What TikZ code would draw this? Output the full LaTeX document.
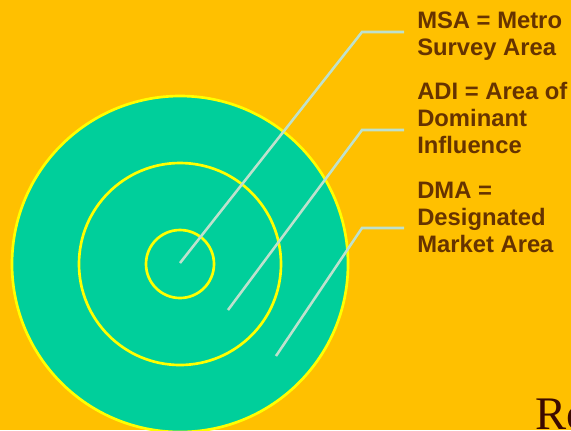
\documentclass[tikz,border=0pt]{standalone}
\usepackage{fontspec}
\setmainfont{Liberation Sans}
\newfontfamily\logofont{Liberation Serif}
\usetikzlibrary{positioning}
\definecolor{bgorange}{RGB}{255,192,0}
\definecolor{ringgreen}{RGB}{0,207,155}
\definecolor{ringyellow}{RGB}{255,255,0}
\definecolor{leadgrey}{RGB}{190,225,205}
\definecolor{labelbrown}{RGB}{102,51,0}
\definecolor{logobrown}{RGB}{60,10,0}
\tikzset{
  ring/.style={draw=ringyellow, line width=2pt, circle, inner sep=0pt},
  leader/.style={draw=leadgrey, line width=1.9pt},
  arealabel/.style={anchor=north west, align=left, inner sep=0pt, text=labelbrown,
    font=\fontsize{17.85pt}{20.2pt}\selectfont\bfseries}
}
\begin{document}
\begin{tikzpicture}[x=.75pt,y=-.75pt]
      \fill[bgorange] (0,0) rectangle (571,430);
      \useasboundingbox (0,0) rectangle (571,430);
      \clip (0,0) rectangle (571,430);

      % rings
      \node (dma) at (180,264) [ring, fill=ringgreen, minimum size=252pt] {};
      \node (adi) at (180,264) [ring, minimum size=151.5pt] {};
      \node (msa) at (180,264) [ring, minimum size=51pt] {};

      % labels
      \node (msatext) at (417,12) [arealabel] {MSA = Metro\\Survey Area};
      \node (aditext) at (417,82) [arealabel] {ADI = Area of\\Dominant\\Influence};
      \node (dmatext) at (417,182) [arealabel] {DMA =\\Designated\\Market Area};

      % leader lines
      \coordinate (msain) at (180,263);
      \coordinate (msabend) at (362,32);
      \coordinate (msaend) at (404,32);
      \coordinate (adiin) at (228,310);
      \coordinate (adibend) at (362,130);
      \coordinate (adiend) at (404,130);
      \coordinate (dmain) at (276,356);
      \coordinate (dmabend) at (362,228);
      \coordinate (dmaend) at (404,228);
      \draw[leader] (msain) -- (msabend) -- (msaend);
      \draw[leader] (adiin) -- (adibend) -- (adiend);
      \draw[leader] (dmain) -- (dmabend) -- (dmaend);

      \node (logo) at (535,429.5) [anchor=base west, inner sep=0pt, text=logobrown,
        font=\fontsize{35pt}{35pt}\logofont] {Ro};
\end{tikzpicture}
\end{document}
